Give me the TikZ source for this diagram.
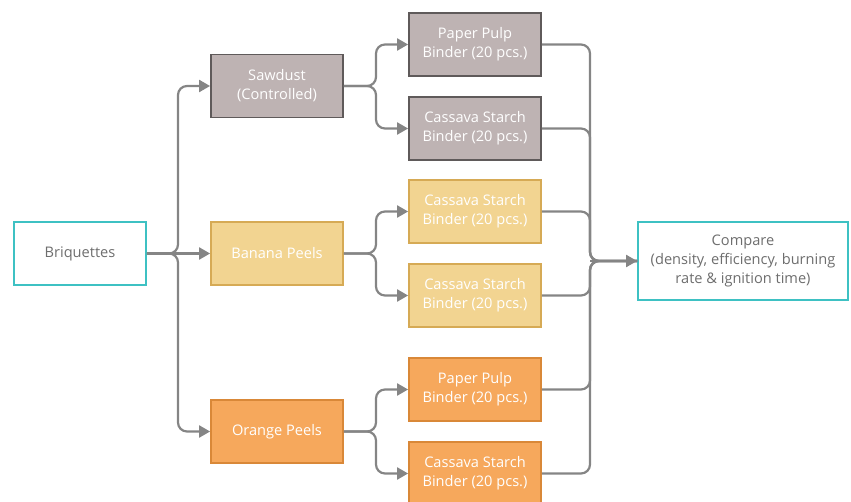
\documentclass[tikz,border=0pt]{standalone}
\usepackage{fontspec}
\setmainfont{Open Sans}
\usetikzlibrary{arrows.meta}
\definecolor{conn}{HTML}{858585}
\definecolor{teal}{HTML}{3EC1C3}
\definecolor{sawfill}{HTML}{BEB3B3}
\definecolor{sawline}{HTML}{5F5A5A}
\definecolor{banfill}{HTML}{F2D491}
\definecolor{banline}{HTML}{D6AA55}
\definecolor{orafill}{HTML}{F6A85C}
\definecolor{oraline}{HTML}{D98838}
\definecolor{txtgray}{HTML}{6E6E6E}
\tikzset{
  box/.style={draw, line width=1.8pt, minimum width=132pt, minimum height=63pt, align=center, inner sep=2pt, font=\fontsize{14.6}{19}\selectfont, text=white},
  whitebox/.style={box, draw=teal, fill=white, text=txtgray},
  sawbox/.style={box, draw=sawline, fill=sawfill},
  banbox/.style={box, draw=banline, fill=banfill},
  orabox/.style={box, draw=oraline, fill=orafill},
  link/.style={draw=conn, line width=2.2pt, rounded corners=9pt},
  arr/.style={link, -{Triangle[length=11pt,width=12pt]}},
}
\begin{document}
\begin{tikzpicture}[x=1pt,y=-1pt]
\useasboundingbox (0,0) rectangle (851,502);
\begin{scope}
\clip (0,0) rectangle (851,502);
\node[whitebox] (brq) at (80,253.5) {Briquettes};
\node[sawbox] (saw) at (277,86) {Sawdust\\(Controlled)};
\node[banbox] (ban) at (277,253.5) {Banana Peels};
\node[orabox] (ora) at (277,431.5) {Orange Peels};
\node[sawbox] (p1) at (475,44.5) {Paper Pulp\\Binder (20 pcs.)};
\node[sawbox] (c1) at (475,128.5) {Cassava Starch\\Binder (20 pcs.)};
\node[banbox] (c2) at (475,211.5) {Cassava Starch\\Binder (20 pcs.)};
\node[banbox] (c3) at (475,295.5) {Cassava Starch\\Binder (20 pcs.)};
\node[orabox] (p3) at (475,389.5) {Paper Pulp\\Binder (20 pcs.)};
\node[orabox] (c4) at (475,473.5) {Cassava Starch\\Binder (20 pcs.)};
\node[whitebox, minimum width=210pt, minimum height=78pt] (cmp) at (743,261) {Compare\\(density, efficiency, burning\\rate \& ignition time)};

\coordinate (s0) at (178,253.5);
\coordinate (s1) at (376,86);
\coordinate (s2) at (376,253.5);
\coordinate (s3) at (376,431.5);
\coordinate (m) at (590,261);

\path[arr] (brq.east) -- (s0) |- (saw.west);
\path[arr] (brq.east) -- (ban.west);
\path[arr] (brq.east) -- (s0) |- (ora.west);

\path[arr] (saw.east) -- (s1) |- (p1.west);
\path[arr] (saw.east) -- (s1) |- (c1.west);
\path[arr] (ban.east) -- (s2) |- (c2.west);
\path[arr] (ban.east) -- (s2) |- (c3.west);
\path[arr] (ora.east) -- (s3) |- (p3.west);
\path[arr] (ora.east) -- (s3) |- (c4.west);

\foreach \n in {p1,c1,c2,c3,p3,c4}{
  \path[link] (\n.east) -| (m) -- (cmp.west);
}
\path[arr] (m) -- (cmp.west);
\end{scope}
\end{tikzpicture}
\end{document}
